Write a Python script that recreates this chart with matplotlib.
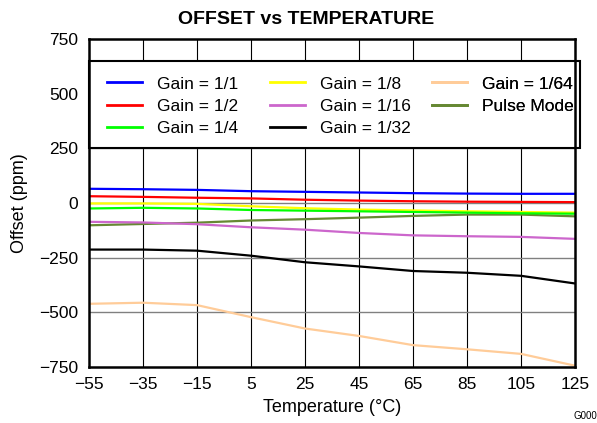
import matplotlib
matplotlib.use("Agg")
import matplotlib.pyplot as plt
from matplotlib.patches import Rectangle
from matplotlib.transforms import TransformedBbox, Bbox

plt.rcParams['font.family'] = ['Liberation Sans', 'DejaVu Sans']

temps = [-55, -35, -15, 5, 25, 45, 65, 85, 105, 125]

gain_1_1 = [65, 63, 60, 54, 51, 48, 45, 43, 42, 42]
gain_1_2 = [31, 28, 24, 21, 15, 11, 8, 6, 5, 4]
gain_1_4 = [-25, -22, -25, -32, -35, -38, -41, -44, -47, -49]
gain_1_8 = [-2, -2, -4, -15, -24, -30, -34, -38, -41, -44]
gain_1_16 = [-86, -89, -97, -111, -122, -137, -148, -152, -155, -164]
gain_1_32 = [-213, -213, -218, -241, -271, -290, -311, -319, -333, -368]
gain_1_64 = [-461, -456, -467, -522, -574, -608, -650, -669, -690, -744]
pulse_mode = [-102, -96, -90, -80, -74, -67, -59, -53, -53, -61]

series = [
    ("Gain = 1/1", gain_1_1, "#0000ff"),
    ("Gain = 1/2", gain_1_2, "#ff0000"),
    ("Gain = 1/4", gain_1_4, "#00ff00"),
    ("Gain = 1/8", gain_1_8, "#ffff00"),
    ("Gain = 1/16", gain_1_16, "#cc66cc"),
    ("Gain = 1/32", gain_1_32, "#000000"),
    ("Gain = 1/64", gain_1_64, "#ffcc99"),
    ("Pulse Mode", pulse_mode, "#668833"),
]

fig = plt.figure(figsize=(5.97, 4.23), dpi=100)
ax = fig.add_axes([89 / 597, 1 - 367 / 423, (575 - 89) / 597, (367 - 39) / 423])

lines = {}
# draw in reverse so blue ends up on top
for name, vals, col in series[::-1]:
    lines[name], = ax.plot(temps, vals, color=col, lw=1.6, label=name)

ax.set_xlim(-55, 125)
ax.set_ylim(-750, 750)
ax.set_xticks(range(-55, 126, 20))
ax.set_yticks(range(-750, 751, 250))
for x in range(-35, 125, 20):
    ax.axvline(x, color="black", lw=0.8, zorder=0)
for y in range(-500, 750, 250):
    ax.axhline(y, color="#808080", lw=1.0, zorder=0)
ax.tick_params(length=0, labelsize=12.5)
ax.tick_params(axis="y", pad=8)
ax.tick_params(axis="x", pad=7)
for s in ax.spines.values():
    s.set_linewidth(1.8)
    s.set_zorder(6)

ax.set_xlabel("Temperature (°C)", fontsize=13, labelpad=5)
ax.set_ylabel("Offset (ppm)", fontsize=13, labelpad=8)
ax.set_title("OFFSET vs TEMPERATURE", fontsize=14, fontweight="bold",
             pad=11, x=0.446)

# legend box: one frame, three frameless columns of equal pitch
box = Rectangle((0, 0.667), 1.011, 0.266, transform=ax.transAxes,
                facecolor="white", edgecolor="black", lw=1.5,
                clip_on=False, zorder=4.5)
ax.add_patch(box)
clip = TransformedBbox(Bbox([[0, 0.667], [1.011, 0.933]]), ax.transAxes)

names = [s[0] for s in series]
cols = [names[0:3], names[3:6], names[6:8]]
col_x = [0.037, 0.372, 0.706]
for cx, group in zip(col_x, cols):
    leg = ax.legend([lines[n] for n in group], group, loc="upper left",
                    bbox_to_anchor=(cx, 0.886), borderaxespad=0, borderpad=0,
                    fontsize=12.5, handlelength=2.0, handletextpad=0.9,
                    labelspacing=0.42, frameon=False)
    leg.set_zorder(5)
    for h in leg.get_lines():
        h.set_linewidth(2.0)
    for t in leg.get_texts():
        t.set_clip_box(clip)
        t.set_clip_on(True)
    ax.add_artist(leg)

fig.text(574 / 597, 1 - 419 / 423, "G000", fontsize=7)

fig.savefig("out.png", dpi=100)
